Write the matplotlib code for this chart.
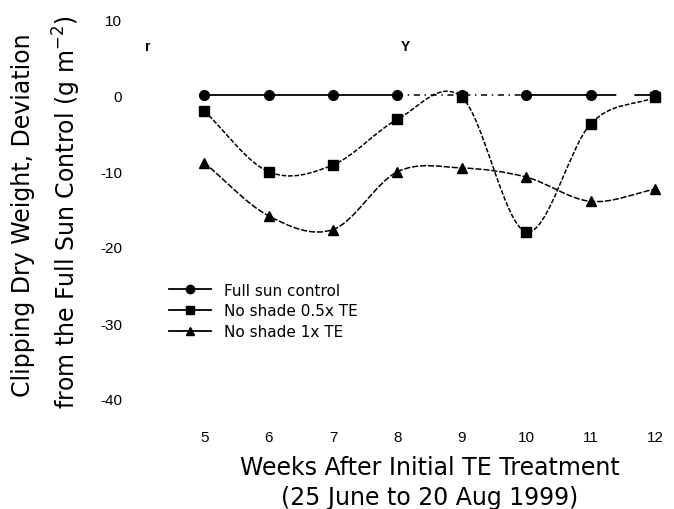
import numpy as np
import matplotlib; matplotlib.use("Agg")
import matplotlib.pyplot as plt
from matplotlib.path import Path
from matplotlib.patches import PathPatch
from matplotlib.lines import Line2D

plt.rcParams["font.family"] = ["Liberation Sans", "DejaVu Sans"]
plt.rcParams["mathtext.default"] = "regular"
plt.rcParams["axes.unicode_minus"] = False

weeks = [5, 6, 7, 8, 9, 10, 11, 12]
full_sun = [0, 0, 0, 0, 0, 0, 0, 0]
half_te = [-2.1, -10.1, -9.2, -3.2, -0.3, -18.0, -3.8, -0.3]
full_te = [-8.9, -15.9, -17.7, -10.1, -9.6, -10.8, -14.0, -12.4]
labels = ["Full sun control", "No shade 0.5x TE", "No shade 1x TE"]
yticks = [10, 0, -10, -20, -30, -40]

WIDE = ["DejaVu Sans"]


def smooth_path(x, y):
    # Catmull-Rom style bezier through the data points
    x = np.asarray(x, float); y = np.asarray(y, float)
    n = len(x)
    mx = np.gradient(x); my = np.gradient(y)
    verts = [(x[0], y[0])]; codes = [Path.MOVETO]
    for i in range(n - 1):
        verts += [(x[i] + mx[i] / 3, y[i] + my[i] / 3),
                  (x[i + 1] - mx[i + 1] / 3, y[i + 1] - my[i + 1] / 3),
                  (x[i + 1], y[i + 1])]
        codes += [Path.CURVE4] * 3
    return Path(verts, codes)


fig = plt.figure(figsize=(6.74, 5.10), dpi=100)
ax = fig.add_axes([172 / 674, 1 - 400 / 510, 496 / 674, 380 / 510])
ax.set_xlim(4.5, 12.2); ax.set_ylim(-40, 10)

# curves
for ys, ls in [(half_te, (0, (3, 1.2))), (full_te, (0, (4, 1.2)))]:
    ax.add_patch(PathPatch(smooth_path(weeks, ys), fill=False, lw=1.1,
                           ls=ls, color="black", clip_on=False))
ax.plot(weeks[:4], full_sun[:4], color="black", lw=1.3)
ax.plot(weeks[5:7], full_sun[5:7], color="black", lw=1.3)
ax.plot(weeks[3:6], full_sun[3:6], color="black", lw=1.1, ls=(0, (4, 3, 1, 3)))
ax.plot(weeks[6:], full_sun[6:], color="black", lw=1.3, ls=(0, (14, 10)))

ax.plot(weeks, full_sun, ls="none", marker="o", ms=7, color="black", clip_on=False)
ax.plot(weeks, half_te, ls="none", marker="s", ms=7, color="black", clip_on=False)
ax.plot(weeks, full_te, ls="none", marker="^", ms=6.5, color="black", clip_on=False)

# small marks above the curves
ax.text(4.12, 6.4, "r", fontsize=10, fontweight="bold", ha="center", va="center")
ax.text(8.12, 6.4, "Y", fontsize=10, fontweight="bold", ha="center", va="center")

for s in ax.spines.values(): s.set_visible(False)
ax.set_xticks(weeks); ax.set_yticks(yticks)
ax.tick_params(axis="both", length=0, labelsize=11)
ax.tick_params(axis="y", pad=36)
ax.tick_params(axis="x", pad=22)

fig.text(430 / 674, 1 - 468 / 510, "Weeks After Initial TE Treatment",
         fontsize=17, family=WIDE, ha="center", va="center")
fig.text(430 / 674, 1 - 498 / 510, "(25 June to 20 Aug 1999)",
         fontsize=17, family=WIDE, ha="center", va="center")
fig.text(23 / 674, 1 - 215 / 510, "Clipping Dry Weight, Deviation",
         fontsize=17, family=WIDE, rotation=90, ha="center", va="center")
fig.text(67 / 674, 1 - 212 / 510, "from the Full Sun Control (g m$^{-2}$)",
         fontsize=17, family=WIDE, rotation=90, ha="center", va="center")

handles = [Line2D([], [], color="black", lw=1.3, marker=m, ms=ms)
           for m, ms in [("o", 6), ("s", 6), ("^", 6)]]
fig.legend(handles, labels, loc="upper left", frameon=False,
           prop={"family": WIDE, "size": 11},
           bbox_to_anchor=(161 / 674, 1 - 276 / 510), borderpad=0,
           handlelength=2.8, handletextpad=0.8, labelspacing=0.38)

fig.savefig("out.png", dpi=100)
